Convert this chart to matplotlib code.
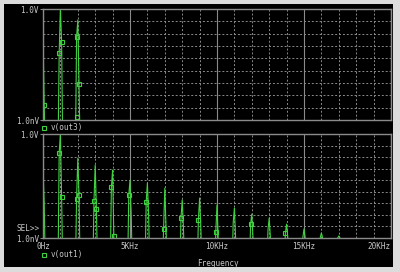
import numpy as np
import matplotlib.pyplot as plt
from matplotlib.lines import Line2D
from matplotlib.patches import Rectangle
from matplotlib.ticker import FixedLocator, NullFormatter

# harmonic spectrum values (volts, frequency in kHz)
out3_freq = [0, 1, 2]
out3_peak = [5.4e-3, 1.2, 0.13]
out3_left = [2e-8, 2.7e-4, 5.4e-3]
out3_right = [1.6e-8, 2.1e-3, 8.3e-7]
out3_mk_freq = [0, 1, 1, 2, 2, 2]
out3_mk_side = [1, -1, 1, -1, 1, -1]
out3_mk_val = [1.6e-8, 2.7e-4, 2.1e-3, 5.4e-3, 8.3e-7, 1.7e-9]

out1_freq = list(range(18))
out1_peak = [6.3e-4, 1.2, 8.3e-3, 2.1e-3, 7.8e-4, 1.0e-4, 5.8e-5, 2.1e-5, 2.0e-6,
             2.9e-6, 7.2e-7, 4.0e-7, 1.2e-7, 5.4e-8, 1.6e-8, 6.0e-9, 2.8e-9, 1.5e-9]
out1_left = [3e-6, 2.3e-2, 2.4e-6, 1.6e-6, 2.6e-5, 5.2e-6, 1.3e-6, 6.3e-9, 5.4e-8,
             3.6e-8, 3.3e-9, 2e-8, 1.6e-8, 5e-9, 2.8e-9, 1e-9, 1e-9, 1e-9]
out1_right = [1e-6, 3.5e-6, 5.2e-6, 3.2e-7, 1.5e-9, 1e-7, 1e-7, 1e-8, 1e-8,
              1e-8, 1e-9, 1e-9, 1e-9, 1e-9, 1e-9, 1e-9, 1e-9, 1e-9]
out1_mk_freq = [1, 1, 2, 2, 3, 3, 4, 4, 5, 6, 7, 8, 9, 10, 12, 14]
out1_mk_side = [-1, 1, -1, 1, -1, 1, -1, 1, -1, -1, -1, -1, -1, -1, -1, -1]
out1_mk_val = [2.3e-2, 3.5e-6, 2.4e-6, 5.2e-6, 1.6e-6, 3.2e-7, 2.6e-5, 1.5e-9,
               5.2e-6, 1.3e-6, 6.3e-9, 5.4e-8, 3.6e-8, 3.3e-9, 1.6e-8, 2.8e-9]

xticks = [0, 5, 10, 15, 20]
xtick_labels = ['0Hz', '5KHz', '10KHz', '15KHz', '20KHz']

GREEN = '#3fd23f'
GRID = '#8a8a8a'
TXT = '#c8c8c8'
FLOOR = 1e-12
DF = 0.07  # one fft bin in kHz

plt.rcParams['font.family'] = 'DejaVu Sans Mono'

def spectrum_trace(freq, peak, left, right):
    xs, ys = [], []
    for f, p, l, r in zip(freq, peak, left, right):
        xs += [f - 2 * DF, f - DF, f, f + DF, f + 2 * DF]
        ys += [FLOOR, l, p, r, FLOOR]
    return xs, ys

def setup(ax):
    ax.set_facecolor('black')
    ax.set_yscale('log')
    ax.set_ylim(1e-9, 1.0)
    ax.set_xlim(0, 20)
    ax.set_xticks(xticks)
    ax.xaxis.set_minor_locator(FixedLocator(range(21)))
    ax.set_yticks([1e-9, 1.0])
    ax.set_yticklabels(['1.0nV', '1.0V'])
    ax.yaxis.set_minor_locator(FixedLocator(10.0 ** np.arange(-8, 0)))
    ax.yaxis.set_minor_formatter(NullFormatter())
    ax.xaxis.grid(True, which='major', color=GRID, lw=0.8, ls='-')
    ax.xaxis.grid(True, which='minor', color=GRID, lw=0.7, ls=(0, (2, 2)))
    ax.yaxis.grid(True, which='minor', color=GRID, lw=0.7, ls=(0, (2, 2)))
    ax.tick_params(which='minor', length=0)
    ax.tick_params(axis='y', which='major', length=2, width=0.8, color=GRID,
                   labelcolor=TXT, labelsize=5.5, pad=1)
    ax.tick_params(axis='x', which='major', length=0, labelcolor=TXT,
                   labelsize=5.5, pad=3)
    for s in ax.spines.values():
        s.set_color(GRID)
        s.set_linewidth(1.0)

def draw(ax, freq, peak, left, right, mk_freq, mk_side, mk_val, name, leg_y):
    xs, ys = spectrum_trace(freq, peak, left, right)
    ax.plot(xs, ys, color=GREEN, lw=0.8)
    mx = [f + s * DF for f, s in zip(mk_freq, mk_side)]
    ax.plot(mx, mk_val, ls='none', marker='s', ms=3, mfc='none',
            mec=GREEN, mew=0.8)
    h = Line2D([], [], ls='none', marker='s', ms=3, mfc='none', mec=GREEN, mew=0.8)
    ax.legend([h], [name], loc='upper left', bbox_to_anchor=(-0.005, leg_y),
              frameon=False, fontsize=5.5, labelcolor=TXT, handlelength=0.6,
              handletextpad=0.6, borderpad=0, borderaxespad=0)

fig = plt.figure(figsize=(4, 2.72), dpi=100, facecolor='#dcdcdc')
fig.patches.append(Rectangle((0.01, 0.018), 0.9725, 0.967, transform=fig.transFigure,
                             facecolor='black', edgecolor='none', zorder=-10))

ax1 = fig.add_axes([0.1075, 0.5588, 0.87, 0.408])
setup(ax1)
ax1.set_xticklabels([])
draw(ax1, out3_freq, out3_peak, out3_left, out3_right,
     out3_mk_freq, out3_mk_side, out3_mk_val, 'v(out3)', -0.03)

ax2 = fig.add_axes([0.1075, 0.125, 0.87, 0.382])
setup(ax2)
ax2.set_xticklabels(xtick_labels)
ax2.get_xticklabels()[-1].set_horizontalalignment('right')
draw(ax2, out1_freq, out1_peak, out1_left, out1_right,
     out1_mk_freq, out1_mk_side, out1_mk_val, 'v(out1)', -0.12)
ax2.text(-0.01, 0.09, 'SEL>>', transform=ax2.transAxes, ha='right', va='center',
         fontsize=5.5, color=TXT)

fig.text(0.545, 0.03, 'Frequency', ha='center', va='center', fontsize=5.5, color=TXT)

fig.savefig('out.png', dpi=100, facecolor=fig.get_facecolor())
